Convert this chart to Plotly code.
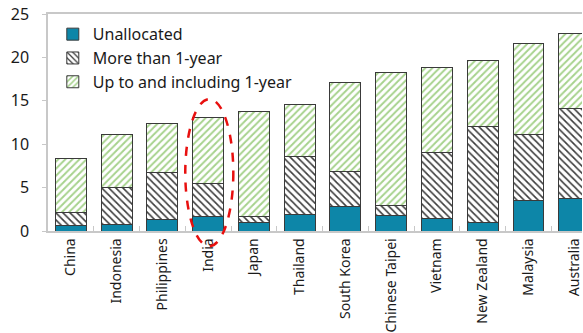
import plotly.graph_objects as go

countries = ["China", "Indonesia", "Philippines", "India", "Japan", "Thailand",
             "South Korea", "Chinese Taipei", "Vietnam", "New Zealand", "Malaysia", "Australia"]
unallocated = [0.68, 0.76, 1.34, 1.71, 0.99, 1.86, 2.77, 1.79, 1.40, 0.99, 3.46, 3.69]
more_than_1y = [1.45, 4.23, 5.43, 3.80, 0.72, 6.78, 4.04, 1.14, 7.62, 11.08, 7.61, 10.41]
up_to_1y = [6.28, 6.08, 5.63, 7.59, 12.02, 5.94, 10.35, 15.30, 9.78, 7.61, 10.53, 8.67]
y_ticks = [0, 5, 10, 15, 20, 25]

FONT = "Noto Sans"
TEAL = "#0d86a8"
OUTLINE = "#3a3a3a"
AXIS = "#c8c8c8"

fig = go.Figure()
fig.add_trace(go.Bar(
    x=countries, y=unallocated, name="Unallocated", legendgroup="a",
    marker=dict(color=TEAL, line=dict(color=OUTLINE, width=1)),
))
fig.add_trace(go.Bar(
    x=countries, y=more_than_1y, name="More than 1-year", legendgroup="b",
    marker=dict(color="white", line=dict(color=OUTLINE, width=1),
                pattern=dict(shape="\\", fgcolor="#3c3c3c", bgcolor="white",
                             size=5, solidity=0.32, fillmode="replace")),
))
fig.add_trace(go.Bar(
    x=countries, y=up_to_1y, name="Up to and including 1-year", legendgroup="c",
    marker=dict(color="white", line=dict(color=OUTLINE, width=1),
                pattern=dict(shape="/", fgcolor="#a6d28c", bgcolor="white",
                             size=5, solidity=0.38, fillmode="replace")),
))

x_range = [-0.5, 11.17]
y_range = [0, 25]

# dashed ellipse highlighting India, placed via paper coordinates derived from the axes
def px(xv):
    return (xv - x_range[0]) / (x_range[1] - x_range[0])

def py(yv):
    return (yv - y_range[0]) / (y_range[1] - y_range[0])

idx = countries.index("India")
fig.add_shape(type="circle", xref="paper", yref="paper",
              x0=px(idx - 0.5), x1=px(idx + 0.55), y0=py(-1.75), y1=py(15.2),
              line=dict(color="#e8100f", width=2.5, dash="dash"), layer="above")

fig.update_layout(
    width=583, height=333,
    margin=dict(l=48, r=0, t=14, b=100),
    paper_bgcolor="white", plot_bgcolor="white",
    barmode="stack", bargap=0.325,
    font=dict(family=FONT, size=16, color="#1a1a1a"),
    showlegend=True,
    legend=dict(x=0.009, y=0.985, xanchor="left", yanchor="top",
                traceorder="grouped", tracegroupgap=0,
                bgcolor="rgba(0,0,0,0)", borderwidth=0,
                font=dict(family=FONT, size=16, color="#1a1a1a")),
    xaxis=dict(range=x_range, showline=True, linecolor=AXIS, linewidth=1.5, mirror=True,
               ticks="inside", tickson="boundaries", ticklen=5, tickcolor=AXIS,
               tickangle=-90, tickfont=dict(family=FONT, size=14, color="#1a1a1a"),
               showgrid=False, zeroline=False),
    yaxis=dict(range=y_range, tickvals=y_ticks, showline=True, linecolor=AXIS, linewidth=1.5,
               ticks="outside", ticklen=4, tickcolor=AXIS,
               tickfont=dict(family=FONT, size=16, color="#1a1a1a"),
               ticklabelstandoff=10,
               showgrid=False, zeroline=False),
)

fig.write_html("out.html")
